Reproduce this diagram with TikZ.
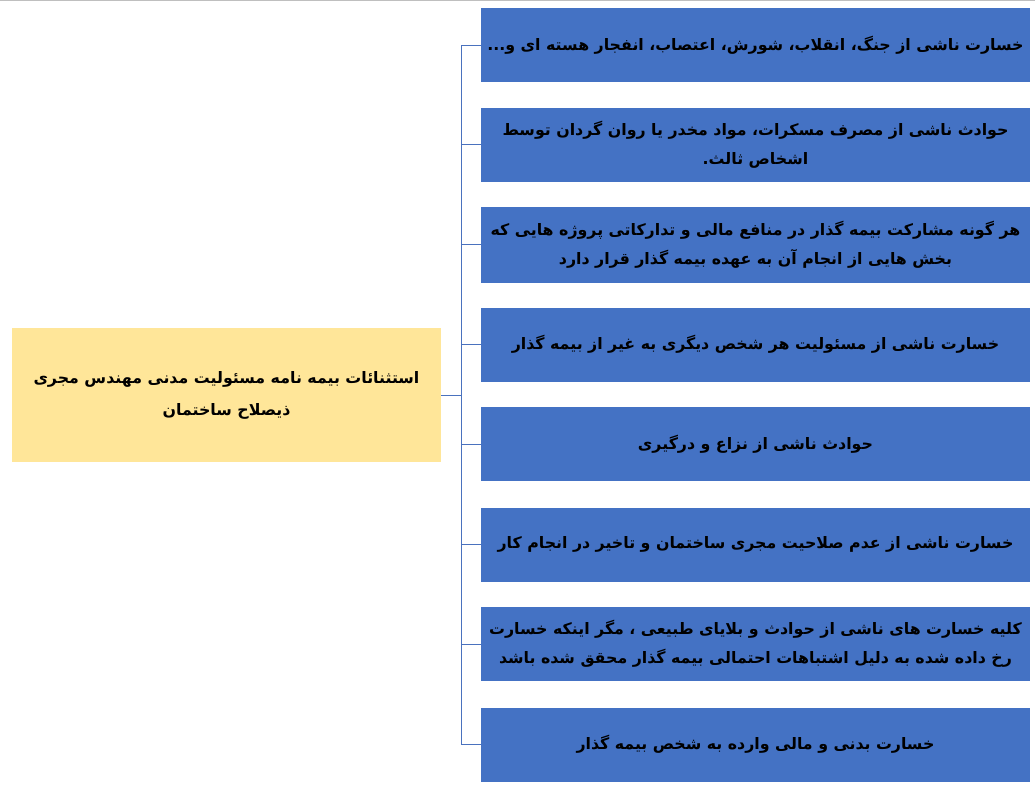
\documentclass[tikz,border=0pt]{standalone}
\usepackage{fontspec}
\TeXXeTstate=1
\newfontfamily\fafont[Script=Arabic]{DejaVu Sans}
\newcommand{\fal}[1]{\beginR #1\endR}
\definecolor{boxblue}{HTML}{4472C4}
\definecolor{boxyellow}{HTML}{FFE699}
\definecolor{linkblue}{HTML}{4A72BE}
\tikzset{
  itembox/.style={fill=boxblue, draw=none, minimum width=549pt, minimum height=74pt,
    inner sep=0pt, align=center, font=\fafont\bfseries\fontsize{15.8}{29}\selectfont},
  rootbox/.style={fill=boxyellow, draw=none, minimum width=429pt, minimum height=134pt,
    inner sep=0pt, align=center, font=\fafont\bfseries\fontsize{15.8}{32}\selectfont},
  conn/.style={draw=linkblue, line width=1pt}
}
\begin{document}
\begin{tikzpicture}[x=1pt,y=-1pt]
\useasboundingbox (0,0) rectangle (1035,786);
\draw[black!25, line width=1.5pt] (0,0.75) -- (1035,0.75);
\node[rootbox] (c) at (226.5,395) {\fal{استثنائات بیمه نامه مسئولیت مدنی مهندس مجری}\\\fal{ذیصلاح ساختمان}};
\node[itembox] (b1) at (755.5,45.5) {\fal{خسارت ناشی از جنگ، انقلاب، شورش، اعتصاب، انفجار هسته ای و...}};
\node[itembox] (b2) at (755.5,145) {\fal{حوادث ناشی از مصرف مسکرات، مواد مخدر یا روان گردان توسط}\\\fal{اشخاص ثالث.}};
\node[itembox, minimum height=76pt] (b3) at (755.5,245) {\fal{هر گونه مشارکت بیمه گذار در منافع مالی و تدارکاتی پروژه هایی که}\\\fal{بخش هایی از انجام آن به عهده بیمه گذار قرار دارد}};
\node[itembox] (b4) at (755.5,344.5) {\fal{خسارت ناشی از مسئولیت هر شخص دیگری به غیر از بیمه گذار}};
\node[itembox] (b5) at (755.5,444) {\fal{حوادث ناشی از نزاع و درگیری}};
\node[itembox] (b6) at (755.5,544.5) {\fal{خسارت ناشی از عدم صلاحیت مجری ساختمان و تاخیر در انجام کار}};
\node[itembox] (b7) at (755.5,644) {\fal{کلیه خسارت های ناشی از حوادث و بلایای طبیعی ، مگر اینکه خسارت}\\\fal{رخ داده شده به دلیل اشتباهات احتمالی بیمه گذار محقق شده باشد}};
\node[itembox] (b8) at (755.5,744.5) {\fal{خسارت بدنی و مالی وارده به شخص بیمه گذار}};
\coordinate (sp) at (461,395);
\draw[conn] (c.east) -- (sp);
\foreach \k in {1,...,8} {\draw[conn] (sp) |- (b\k.west);}
\end{tikzpicture}
\end{document}
